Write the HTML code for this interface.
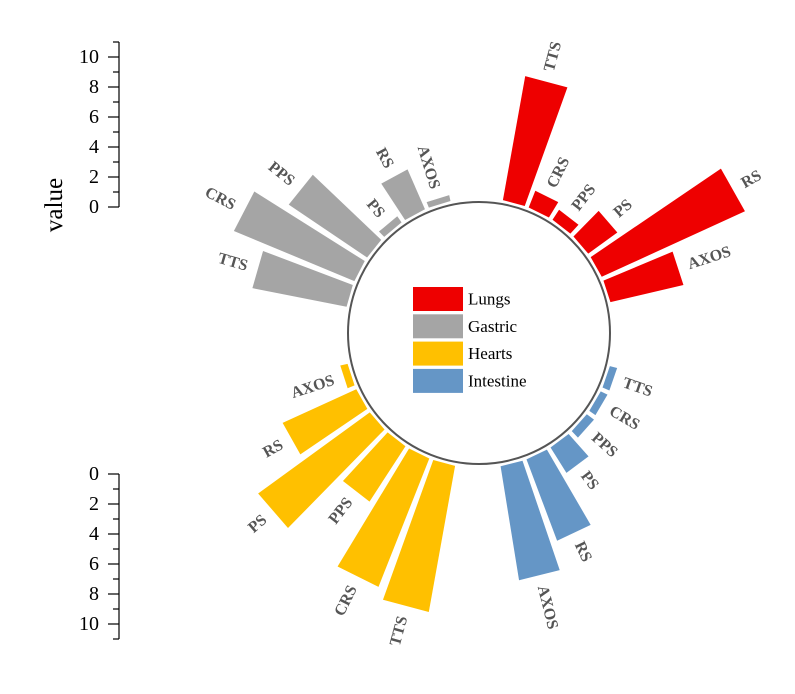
<!DOCTYPE html>
<html><head><meta charset="utf-8"><style>
body{margin:0;background:#fff;}
svg{display:block;font-family:"Liberation Serif",serif;}
</style></head><body>
<svg id="chart" width="795" height="694"></svg>
<script>
const groups = ["Lungs","Gastric","Hearts","Intestine"];
const categories = ["TTS","CRS","PPS","PS","RS","AXOS"];
const lungsValues = [8.4, 1.2, 0.8, 2.4, 10.5, 5.0];
const intestineValues = [0.5, 0.5, 0.6, 2.0, 5.8, 7.7];
const heartsValues = [9.9, 9.2, 4.4, 9.2, 5.4, 0.5];
const gastricValues = [6.4, 8.7, 6.3, 0.5, 2.9, 0.4];
const axisTicks = [0,2,4,6,8,10];
const colors = {Lungs:"#ee0000",Gastric:"#a5a5a5",Hearts:"#ffc000",Intestine:"#6596c6"};

const NS="http://www.w3.org/2000/svg";
const svg=document.getElementById('chart');
function mk(tag,attrs,parent){const e=document.createElementNS(NS,tag);for(const k in attrs)e.setAttribute(k,attrs[k]);(parent||svg).appendChild(e);return e;}
const cx=479, cy=333, r0=131, rb=135, pxPerUnit=15;
const rScale=v=>rb+v*pxPerUnit;
const band=11.4, barW=9.6;
const groupSeries=[["Lungs",lungsValues,15],["Intestine",intestineValues,109],["Hearts",heartsValues,195],["Gastric",gastricValues,286]];
function pt(a,r){const t=a*Math.PI/180;return [cx+r*Math.sin(t), cy-r*Math.cos(t)];}

mk('circle',{cx:cx,cy:cy,r:r0,fill:'none',stroke:'#555','stroke-width':2,});

groupSeries.forEach(([g,vals,start])=>{
  vals.forEach((v,i)=>{
    const a=start+band*i, a1=a-barW/2, a2=a+barW/2, r=rScale(v);
    const p1=pt(a1,rb),p2=pt(a1,r),p3=pt(a2,r),p4=pt(a2,rb);
    const bar=mk('path',{d:`M${p1}L${p2}L${p3}L${p4}Z`,fill:colors[g]});
    
    
    const lp=pt(a,r+10);
    const right=(a%360)<180;
    const rot=right?a-90:a+90;
    const t=mk('text',{x:lp[0],y:lp[1],transform:`rotate(${rot} ${lp[0]} ${lp[1]})`,'text-anchor':right?'start':'end','dominant-baseline':'central','font-size':16,'font-weight':'bold',fill:'#555'});
    t.textContent=categories[i];
    
    
  });
});

function axis(y0,dir,name){
  const gEl=mk('g',{});
  
  
  const yEnd=y0+dir*165;
  mk('line',{x1:119,y1:y0,x2:119,y2:yEnd,stroke:'#000','stroke-width':1.2},gEl);
  mk('line',{x1:113,y1:yEnd,x2:119,y2:yEnd,stroke:'#000','stroke-width':1.2},gEl);
  for(let v=0;v<=10;v++){const y=y0+dir*v*pxPerUnit;mk('line',{x1:v%2?113:108,y1:y,x2:119,y2:y,stroke:'#000','stroke-width':1.2},gEl);}
  axisTicks.forEach(v=>{const y=y0+dir*v*pxPerUnit;const t=mk('text',{x:99,y:y,'text-anchor':'end','dominant-baseline':'central','font-size':20},gEl);t.textContent=v;
    
    });
}
axis(207,-1,'top-y-axis');
axis(474,1,'bottom-y-axis');
const vt=mk('text',{x:62,y:205,transform:'rotate(-90 62 205)','text-anchor':'middle','font-size':25,});
vt.textContent='value';

groups.forEach((g,i)=>{
  const y=287+i*27.3;
  const r=mk('rect',{x:413,y:y,width:50,height:24,fill:colors[g]});
  
  
  const t=mk('text',{x:468,y:y+12,'dominant-baseline':'central','font-size':17});
  t.textContent=g;
  
  
});
</script>
</body></html>
